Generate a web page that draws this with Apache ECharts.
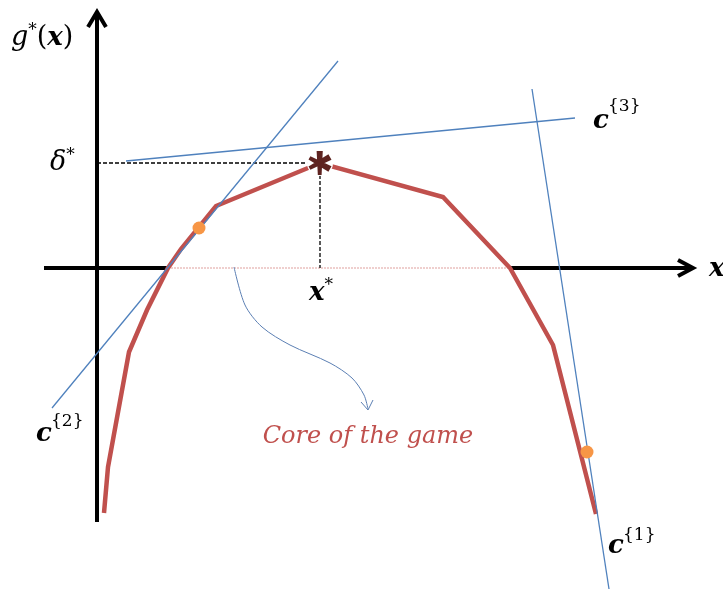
<!DOCTYPE html>
<html>
<head>
<meta charset="utf-8">
<script src="https://cdn.jsdelivr.net/npm/echarts@6/dist/echarts.min.js"></script>
<style>
  html, body { margin: 0; padding: 0; background: #ffffff; }
  #chart { width: 723px; height: 590px; }
</style>
</head>
<body>
<div id="chart"></div>
<script>
// Piecewise-linear concave function g*(x)
const coreCurve = [
  [0.07, -2.45], [0.11, -1.99], [0.32, -0.84], [0.50, -0.42], [0.71, 0.00],
  [0.84, 0.19], [1.19, 0.62], [2.23, 1.05], [3.46, 0.71], [4.13, 0.00],
  [4.56, -0.77], [4.99, -2.46]
];
// Optimum (x*, delta*)
const optimum = [2.23, 1.05];
// Supporting lines c{1}, c{2}, c{3}
const lineC1 = [[4.35, 1.79], [5.12, -3.21]];
const lineC2 = [[-0.45, -1.40], [2.41, 2.07]];
const lineC3 = [[0.29, 1.07], [4.78, 1.50]];
// Points where c{1}, c{2} touch the curve
const touchPoints = [[1.02, 0.40], [4.90, -1.84]];
// The core: the part of the x axis where g*(x) >= 0
const coreSegment = [[0.71, 0], [4.13, 0]];
// Axes (drawn as lines, broken where the core lies)
const xAxisLeft = [[-0.53, 0], [0.71, 0]];
const xAxisRight = [[4.13, 0], [5.94, 0]];
const xAxisHead = [[5.81, 0.08], [5.96, 0], [5.81, -0.08]];
const yAxisLine = [[0, -2.54], [0, 2.53]];
const yAxisHead = [[-0.09, 2.41], [0, 2.56], [0.09, 2.41]];
// Curved pointer from the core segment to its caption
const pointerPath = [[1.37, 0.01], [1.48, -0.37], [1.65, -0.59], [1.93, -0.77], [2.33, -0.95], [2.55, -1.10], [2.67, -1.27], [2.71, -1.41]];
const pointerHead = [[2.64, -1.34], [2.71, -1.42], [2.76, -1.32]];

const BLUE = '#4f81bd';
const RED = '#c0504d';
const MATH = 'DejaVu Serif';

function seg(data, color, width, extra) {
  return Object.assign({
    type: 'line', data: data, symbol: 'none', silent: true, animation: false,
    lineStyle: { color: color, width: width, cap: 'butt', join: 'miter' }
  }, extra || {});
}

const chart = echarts.init(document.getElementById('chart'), null, { renderer: 'canvas' });

// six-armed bold asterisk marking the optimum
const asterisk = 'path://M-2.6,-10L2.6,-10L1.6,10L-1.6,10Z' +
  'M7.36,-7.25L9.96,-2.75L-7.86,5.61L-9.46,2.84Z' +
  'M9.96,2.75L7.36,7.25L-9.46,-2.84L-7.86,-5.61Z';

const rich = {
  i: { fontFamily: MATH, fontStyle: 'italic', fontSize: 27, color: '#000', lineHeight: 32 },
  n: { fontFamily: MATH, fontSize: 27, color: '#000', lineHeight: 32 },
  b: { fontFamily: MATH, fontStyle: 'italic', fontWeight: 'bold', fontSize: 26, color: '#000', lineHeight: 32 },
  s: { fontFamily: MATH, fontSize: 17, color: '#000', verticalAlign: 'top', lineHeight: 32 }
};

function label(x, y, text, align) {
  return {
    type: 'text', x: x, y: y, silent: true,
    style: { text: text, align: align || 'left', verticalAlign: 'middle', rich: rich }
  };
}

// bold italic c with a braced superscript index
function cLabel(x, y, idx, supY) {
  return [
    label(x, y, '{b|c}'),
    {
      type: 'text', x: x + 15, y: supY, silent: true,
      style: { text: '{' + idx + '}', align: 'left', verticalAlign: 'middle',
               fontFamily: MATH, fontSize: 17, fill: '#000' }
    }
  ];
}

chart.setOption({
  animation: false,
  grid: { left: 0, right: 0, top: 0, bottom: 0 },
  xAxis: { type: 'value', min: -0.97, max: 6.26, show: false },
  yAxis: { type: 'value', min: -3.22, max: 2.68, show: false },
  series: [
    seg(coreSegment, '#e3a3a1', 1, { lineStyle: { color: '#e0a09e', width: 1.2, type: [2, 1] }, z: 1 }),
    seg(xAxisLeft, '#000', 4, { z: 2 }),
    seg(xAxisRight, '#000', 4, { z: 2 }),
    seg(xAxisHead, '#000', 4, { z: 2 }),
    seg(yAxisLine, '#000', 4, { z: 2 }),
    seg(yAxisHead, '#000', 4, { z: 2 }),
    seg([[0, optimum[1]], [optimum[0], optimum[1]]], '#000', 1.2, { lineStyle: { color: '#000', width: 1.3, type: [4, 2] }, z: 3 }),
    seg([[optimum[0], optimum[1]], [optimum[0], 0]], '#000', 1.2, { lineStyle: { color: '#000', width: 1.3, type: [4, 2] }, z: 3 }),
    seg(coreCurve, RED, 4.5, { z: 4 }),
    seg(lineC1, BLUE, 1.3, { z: 5 }),
    seg(lineC2, BLUE, 1.3, { z: 5 }),
    seg(lineC3, BLUE, 1.3, { z: 5 }),
    seg(pointerPath, '#5b7fb3', 1, { smooth: 0.3, z: 5 }),
    seg(pointerHead, '#5b7fb3', 1, { z: 5 }),
    {
      type: 'scatter', data: touchPoints, symbol: 'circle', symbolSize: 13,
      itemStyle: { color: '#f79646', opacity: 1 }, silent: true, animation: false, z: 6
    },
    {
      type: 'scatter', data: [optimum], symbol: 'circle', symbolSize: 26,
      itemStyle: { color: '#ffffff', opacity: 1 }, silent: true, animation: false, z: 7
    },
    {
      type: 'scatter', data: [optimum], symbol: asterisk, symbolSize: [23, 24],
      itemStyle: { color: '#5e2320', opacity: 1 }, silent: true, animation: false, z: 8
    }
  ],
  graphic: [
    label(11, 38, '{i|g}{s|*}{n|(}{b|x}{n|)}'),
    label(50, 163, '{i|δ}{s|*}'),
    label(321, 293, '{b|x}{s|*}', 'center'),
    label(709, 269, '{b|x}'),
    ...cLabel(593, 121, 3, 107),
    ...cLabel(36, 434, 2, 422),
    ...cLabel(608, 546, 1, 536),
    {
      type: 'text', x: 368, y: 437, silent: true,
      style: {
        text: 'Core of the game', align: 'center', verticalAlign: 'middle',
        fontFamily: MATH, fontStyle: 'italic', fontSize: 24, fill: RED
      }
    }
  ]
});
</script>
</body>
</html>
